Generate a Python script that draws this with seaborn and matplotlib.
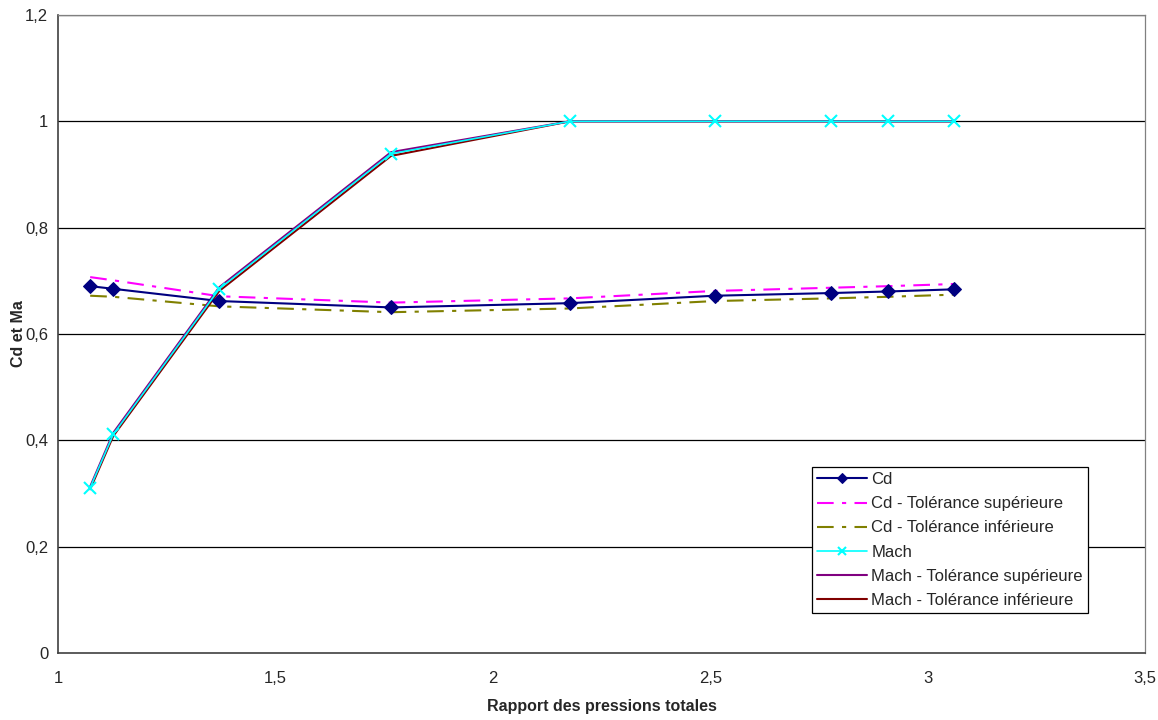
import matplotlib
matplotlib.use("Agg")
import matplotlib.pyplot as plt
import seaborn as sns

# Data
rapport = [1.074, 1.127, 1.371, 1.766, 2.177, 2.511, 2.777, 2.91, 3.06]
cd = [0.690, 0.685, 0.662, 0.650, 0.658, 0.672, 0.677, 0.680, 0.684]
cd_sup = [0.707, 0.701, 0.671, 0.659, 0.667, 0.681, 0.687, 0.690, 0.694]
cd_inf = [0.672, 0.670, 0.652, 0.641, 0.648, 0.662, 0.667, 0.670, 0.674]
mach = [0.311, 0.411, 0.685, 0.939, 1.0, 1.0, 1.0, 1.0, 1.0]
mach_sup = [0.313, 0.414, 0.688, 0.942, 1.0, 1.0, 1.0, 1.0, 1.0]
mach_inf = [0.308, 0.408, 0.681, 0.935, 1.0, 1.0, 1.0, 1.0, 1.0]

sns.set_style("white")
plt.rcParams['font.family'] = ['Liberation Sans', 'DejaVu Sans']

fig = plt.figure(figsize=(11.58, 7.2), dpi=100)
ax = fig.add_axes([58 / 1158, 67 / 720, 1087 / 1158, 638 / 720])

for y in [0.2, 0.4, 0.6, 0.8, 1.0, 1.2]:
    ax.axhline(y, color='black', lw=0.9, zorder=0)

sns.lineplot(x=rapport, y=cd, ax=ax, color='#000080', lw=1.5, marker='D', markersize=7,
             markeredgecolor='#000080', label='Cd', zorder=5)
sns.lineplot(x=rapport, y=cd_sup, ax=ax, color='#ff00ff', lw=1.5, linestyle=(0, (8, 4, 2, 4)),
             label='Cd - Tolérance supérieure', zorder=3)
sns.lineplot(x=rapport, y=cd_inf, ax=ax, color='#808000', lw=1.5, linestyle=(0, (8, 4, 2, 4)),
             label='Cd - Tolérance inférieure', zorder=3)
sns.lineplot(x=rapport, y=mach_inf, ax=ax, color='#800000', lw=1.5,
             label='Mach - Tolérance inférieure', zorder=3)
sns.lineplot(x=rapport, y=mach_sup, ax=ax, color='#800080', lw=1.5,
             label='Mach - Tolérance supérieure', zorder=3)
sns.lineplot(x=rapport, y=mach, ax=ax, color='#00ffff', lw=1.2, marker='x', markersize=8,
             markeredgewidth=1.5, markeredgecolor='#00ffff', label='Mach', zorder=6)

ax.set_xlim(1, 3.5)
ax.set_ylim(0, 1.2)
ax.set_xticks([1, 1.5, 2, 2.5, 3, 3.5])
ax.set_xticklabels(['1', '1,5', '2', '2,5', '3', '3,5'], fontsize=12)
ax.set_yticks([0, 0.2, 0.4, 0.6, 0.8, 1.0, 1.2])
ax.set_yticklabels(['0', '0,2', '0,4', '0,6', '0,8', '1', '1,2'], fontsize=12)
ax.tick_params(axis='both', direction='inout', length=8, width=0.9, color='#404040')
ax.tick_params(axis='x', pad=9)
ax.tick_params(axis='y', pad=3)

for side in ['top', 'right']:
    ax.spines[side].set_color('#808080')
    ax.spines[side].set_linewidth(0.9)
for side in ['left', 'bottom']:
    ax.spines[side].set_color('#404040')
    ax.spines[side].set_linewidth(1.2)

ax.set_xlabel('Rapport des pressions totales', fontsize=11.5, fontweight='bold', labelpad=9)
ax.set_ylabel('Cd et Ma', fontsize=11.5, fontweight='bold')
ax.yaxis.set_label_coords(-32 / 1087, 0.5)

handles, labels = ax.get_legend_handles_labels()
order = ['Cd', 'Cd - Tolérance supérieure', 'Cd - Tolérance inférieure', 'Mach',
         'Mach - Tolérance supérieure', 'Mach - Tolérance inférieure']
hmap = dict(zip(labels, handles))
leg = ax.legend([hmap[k] for k in order], order, loc='lower left',
                bbox_to_anchor=(812 / 1158, 107 / 720), bbox_transform=fig.transFigure,
                fontsize=12, frameon=True, fancybox=False, framealpha=1,
                edgecolor='black', borderpad=0.3, labelspacing=0.55, handlelength=3.0,
                handletextpad=0.25, borderaxespad=0, markerscale=0.8)
leg.get_frame().set_linewidth(0.9)

fig.savefig('out.png', dpi=100)
